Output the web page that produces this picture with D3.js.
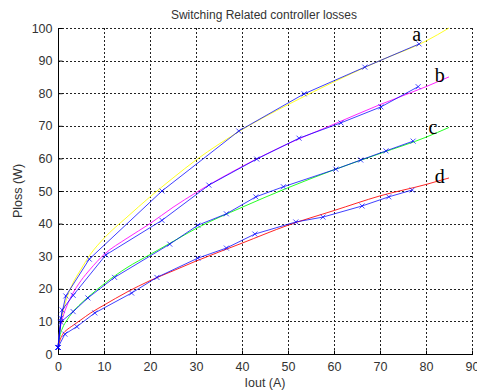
<!DOCTYPE html>
<html>
<head>
<meta charset="utf-8">
<style>
  body { margin: 0; background: #fff; }
  svg { display: block; }
</style>
</head>
<body>
<svg id="chart" width="477" height="392"></svg>
<script src="https://d3js.org/d3.v7.min.js"></script>
<script>
    // smooth model curves
    let curveX = [0, 0.5, 1, 2, 3, 5, 7, 10, 15, 20, 25, 30, 40, 50, 60, 70, 80, 85]
    let curveA = [2, 9, 12.5, 17.5, 21, 26, 30.5, 35.5, 42, 48.2, 54, 59.5, 68.8, 76.5, 83.5, 90, 96, 100]
    let curveB = [2, 8, 11, 15, 18, 22.5, 26, 30.5, 35.5, 40, 45, 49.5, 57.5, 64.5, 70.5, 76.5, 82, 85]
    let curveC = [2, 6, 8, 10.5, 12.5, 15.5, 18, 21.5, 26.5, 30.5, 34.5, 38.5, 45, 51, 56.5, 61.5, 66.5, 69.5]
    let curveD = [2, 4.5, 6, 7.5, 8.5, 10.5, 12.5, 15, 19, 22.5, 25.5, 28.5, 34, 39.5, 44, 48.5, 52, 54]

    // measured points (blue, x markers)
    let measAX = [0, 0.6, 1.7, 6.8, 22.6, 39.3, 53.5, 66.7, 78.5]
    let measAY = [2, 11, 17.8, 29.1, 50, 68.4, 79.8, 88, 95.1]
    let measBX = [0, 0.9, 3.3, 10.4, 22.6, 32.8, 43.2, 52.4, 61.5, 70.2, 78.3]
    let measBY = [2, 13.5, 18, 30.4, 41, 51.8, 59.8, 66.2, 70.9, 75.8, 82]
    let measCX = [0, 0.6, 3.3, 6.5, 12.3, 24.3, 30.4, 36.6, 43, 49, 60.4, 65.8, 71.3, 77.2]
    let measCY = [2, 9.8, 13, 17.2, 23.5, 33.7, 39.5, 43, 48.2, 51.3, 56.7, 59.5, 62.3, 65.3]
    let measDX = [0, 1.5, 4.1, 8, 16, 21.5, 30.4, 36.6, 42.8, 51.7, 57.6, 66.1, 71.9, 77]
    let measDY = [2, 6.1, 8.4, 12.6, 18.7, 23.5, 29.4, 32.5, 36.8, 40.5, 42, 45.4, 48.2, 50.3]

    let curveColors = ['#ffff00', '#ff00ff', '#00ff00', '#ff0000']
    let labels = ['a', 'b', 'c', 'd']
    let labelX = [78, 83, 81.5, 83]
    let labelY = [96, 83.4, 67.5, 52.5]

    let xTicks = [0, 10, 20, 30, 40, 50, 60, 70, 80, 90]
    let yTicks = [0, 10, 20, 30, 40, 50, 60, 70, 80, 90, 100]

    let svg = d3.select('#chart')
    let plotL = 58, plotR = 472, plotT = 28, plotB = 354

    let x = d3.scaleLinear().domain([0, 90]).range([plotL, plotR])
    let y = d3.scaleLinear().domain([0, 100]).range([plotB, plotT])

    // grid
    let grid = svg.append('g')
    grid.selectAll('.gx').data(xTicks.slice(1)).enter().append('line')
        .attr('x1', d => Math.round(x(d)) + 0.5).attr('x2', d => Math.round(x(d)) + 0.5)
        .attr('y1', plotT).attr('y2', plotB)
        .attr('stroke', '#222').attr('stroke-width', 1).attr('stroke-dasharray', '2,2')
    grid.selectAll('.gy').data(yTicks.slice(1)).enter().append('line')
        .attr('y1', d => Math.round(y(d)) + 0.5).attr('y2', d => Math.round(y(d)) + 0.5)
        .attr('x1', plotL).attr('x2', plotR)
        .attr('stroke', '#222').attr('stroke-width', 1).attr('stroke-dasharray', '2,2')

    // axes
    let xAxis = d3.axisBottom(x).tickValues(xTicks).tickSizeInner(-4).tickSizeOuter(0).tickPadding(8)
    let yAxis = d3.axisLeft(y).tickValues(yTicks).tickSizeInner(-4).tickSizeOuter(0).tickPadding(6)
    let gx = svg.append('g').attr('transform', 'translate(0,' + (plotB + 0.5) + ')').call(xAxis)
    let gy = svg.append('g').attr('transform', 'translate(' + (plotL + 0.5) + ',0)').call(yAxis)
    gx.select('.domain').remove()
    gy.select('.domain').remove()
    svg.append('line').attr('x1', plotL + 0.5).attr('x2', plotL + 0.5).attr('y1', plotT).attr('y2', plotB + 1)
        .attr('stroke', '#000')
    svg.append('line').attr('x1', plotL).attr('x2', plotR + 1).attr('y1', plotB + 0.5).attr('y2', plotB + 0.5)
        .attr('stroke', '#000')
    svg.selectAll('.tick text')
        .attr('font-family', 'Liberation Sans, Arial, sans-serif')
        .attr('font-size', '12.5px')
        .attr('fill', '#333')

    // smooth curves
    let line = d3.line().x(d => x(d[0])).y(d => y(d[1])).curve(d3.curveMonotoneX)
    let curves = [curveA, curveB, curveC, curveD]
    curves.forEach(function (vals, i) {
        svg.append('path')
            .datum(curveX.map((cx, j) => [cx, vals[j]]))
            .attr('d', line)
            .attr('fill', 'none')
            .attr('stroke', curveColors[i])
            .attr('stroke-opacity', 0.85)
            .attr('stroke-width', 1)
    })

    // measured lines
    let straight = d3.line().x(d => x(d[0])).y(d => y(d[1]))
    let meas = [[measAX, measAY], [measBX, measBY], [measCX, measCY], [measDX, measDY]]
    meas.forEach(function (m) {
        let pts = m[0].map((mx, j) => [mx, m[1][j]])
        svg.append('path')
            .datum(pts)
            .attr('d', straight)
            .attr('fill', 'none')
            .attr('stroke', '#0000ff')
            .attr('stroke-opacity', 0.75)
            .attr('stroke-width', 1)
        svg.append('g').selectAll('path').data(pts).enter().append('path')
            .attr('d', d => {
                let cx = x(d[0]), cy = y(d[1]), s = 2.5
                return 'M' + (cx - s) + ',' + (cy - s) + 'L' + (cx + s) + ',' + (cy + s) +
                    'M' + (cx - s) + ',' + (cy + s) + 'L' + (cx + s) + ',' + (cy - s)
            })
            .attr('stroke', '#0000ff')
            .attr('stroke-opacity', 0.7)
            .attr('stroke-width', 1)
    })

    // curve labels
    svg.selectAll('.lbl').data(labels).enter().append('text')
        .attr('x', (d, i) => x(labelX[i]))
        .attr('y', (d, i) => y(labelY[i]))
        .attr('text-anchor', 'middle')
        .attr('font-family', 'Liberation Serif, Times New Roman, serif')
        .attr('font-size', '20px')
        .attr('fill', '#000')
        .text(d => d)

    // title and axis labels
    svg.append('text').attr('x', 264).attr('y', 19).attr('text-anchor', 'middle')
        .attr('font-family', 'Liberation Sans, Arial, sans-serif').attr('font-size', '12px')
        .attr('fill', '#333').text('Switching Related controller losses')
    svg.append('text').attr('x', 265).attr('y', 387).attr('text-anchor', 'middle')
        .attr('font-family', 'Liberation Sans, Arial, sans-serif').attr('font-size', '12.5px')
        .attr('fill', '#333').text('Iout (A)')
    svg.append('text').attr('transform', 'translate(22,191) rotate(-90)').attr('text-anchor', 'middle')
        .attr('font-family', 'Liberation Sans, Arial, sans-serif').attr('font-size', '12.5px')
        .attr('fill', '#333').text('Ploss (W)')
</script>
</body>
</html>
